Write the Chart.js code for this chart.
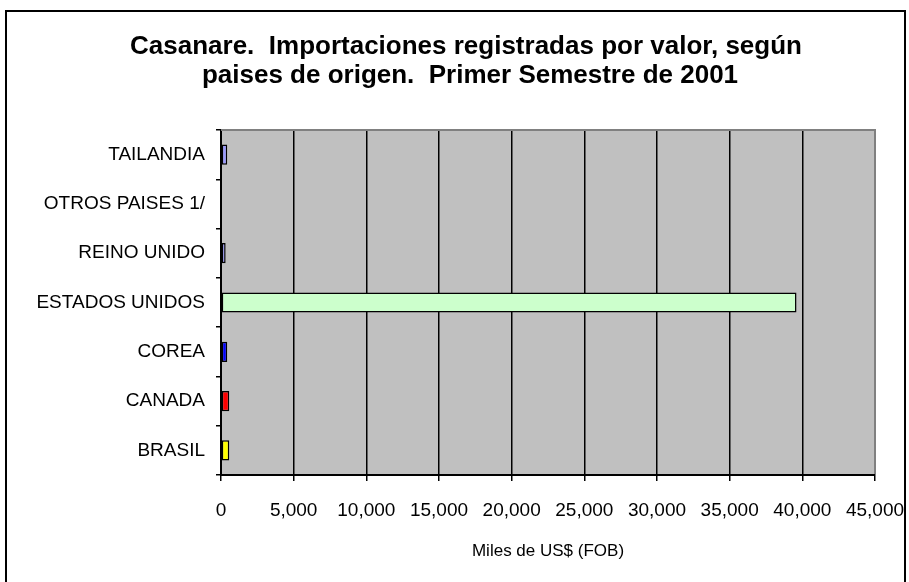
<!DOCTYPE html>
<html>
<head>
<meta charset="utf-8">
<script src="https://cdn.jsdelivr.net/npm/chart.js@4"></script>
<style>
  html, body { margin: 0; padding: 0; background: #fff; }
  #wrap { position: relative; width: 909px; height: 582px; }
</style>
</head>
<body>
<div id="wrap"><canvas id="chart" width="909" height="582"></canvas></div>
<script>
// datos
const paises = ["TAILANDIA", "OTROS PAISES 1/", "REINO UNIDO", "ESTADOS UNIDOS", "COREA", "CANADA", "BRASIL"];
const valores = [430, 0, 320, 39600, 430, 570, 570];
const colores = ["#9999ff", "#993366", "#9999ff", "#ccffcc", "#0000ff", "#ff0000", "#ffff00"];
const ejeMax = 45000;
const paso = 5000;
const titulo = ["Casanare.  Importaciones registradas por valor, según", "paises de origen.  Primer Semestre de 2001"];

const fuente = "'Liberation Sans', Arial, sans-serif";

// fondo gris del área, marco exterior y título
const fondo = {
    id: "fondo",
    beforeDraw(chart) {
        const { ctx, chartArea: a } = chart;
        ctx.save();
        ctx.fillStyle = "#c0c0c0";
        ctx.fillRect(a.left, a.top, a.right - a.left, a.bottom - a.top);
        ctx.strokeStyle = "#000";
        ctx.lineWidth = 2;
        ctx.beginPath();
        ctx.moveTo(6, 590);
        ctx.lineTo(6, 11);
        ctx.lineTo(905, 11);
        ctx.lineTo(905, 590);
        ctx.stroke();
        ctx.restore();
    },
    afterDatasetsDraw(chart) {
        const { ctx, chartArea: a } = chart;
        ctx.save();
        ctx.strokeStyle = "#808080";
        ctx.lineWidth = 2;
        ctx.beginPath();
        ctx.moveTo(a.left, a.top);
        ctx.lineTo(a.right, a.top);
        ctx.lineTo(a.right, a.bottom - 1);
        ctx.stroke();
        ctx.restore();
    },
    afterDraw(chart) {
        const ctx = chart.ctx;
        ctx.save();
        ctx.fillStyle = "#000";
        ctx.font = "bold 26px " + fuente;
        ctx.textAlign = "center";
        ctx.textBaseline = "middle";
        ctx.fillText(titulo[0], 466, 47);
        ctx.fillText(titulo[1], 470, 76);
        ctx.restore();
    }
};

new Chart(document.getElementById("chart"), {
    type: "bar",
    data: {
        labels: paises,
        datasets: [{
            data: valores,
            backgroundColor: colores,
            borderColor: "#000",
            borderWidth: 1.5,
            borderSkipped: false,
            categoryPercentage: 1,
            barPercentage: 0.41
        }]
    },
    options: {
        indexAxis: "y",
        responsive: false,
        animation: false,
        layout: { padding: { left: 0, right: 34, top: 130, bottom: 20 } },
        plugins: {
            legend: { display: false },
            tooltip: { enabled: false },
            title: { display: false }
        },
        scales: {
            x: {
                min: 0,
                max: ejeMax,
                ticks: {
                    stepSize: paso,
                    color: "#000",
                    padding: 18,
                    maxRotation: 0,
                    autoSkip: false,
                    font: { family: fuente, size: 19 },
                    callback: v => v.toLocaleString("en-US")
                },
                grid: { color: "#000", lineWidth: 1.5, tickLength: 6, tickColor: "#000" },
                border: { color: "#000", width: 2 },
                title: {
                    display: true,
                    text: "Miles de US$ (FOB)",
                    color: "#000",
                    font: { family: fuente, size: 17 },
                    padding: { top: 10, bottom: 0 }
                },
                afterFit(s) {
                    s.height = 87;
                    s.paddingLeft = 0;
                    s.paddingRight = 0;
                }
            },
            y: {
                ticks: {
                    color: "#000",
                    padding: 11,
                    autoSkip: false,
                    font: { family: fuente, size: 19 }
                },
                grid: { offset: true, drawOnChartArea: false, tickLength: 5, tickColor: "#000", lineWidth: 1.5 },
                border: { color: "#000", width: 2 },
                afterFit(s) { s.width = 221; }
            }
        }
    },
    plugins: [fondo]
});
</script>
</body>
</html>
